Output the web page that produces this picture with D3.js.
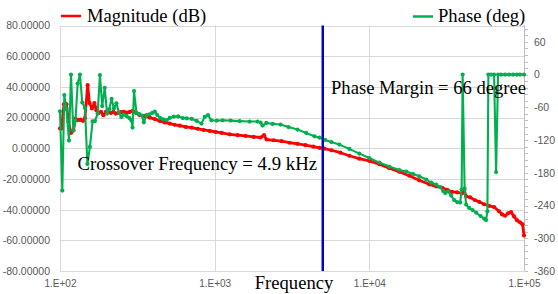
<!DOCTYPE html>
<html>
<head>
<meta charset="utf-8">
<script src="https://cdn.jsdelivr.net/npm/d3@7"></script>
<style>
  body { margin: 0; background: #fff; }
  .tick text { font-family: "Liberation Sans", Arial, sans-serif; fill: #595959; }
  .serif { font-family: "Liberation Serif", "Times New Roman", serif; fill: #000; }
</style>
</head>
<body>
<div id="chart"></div>
<script>
// magnitude (dB), red, left axis
var magFreq = [100, 102.3, 106.1, 110.1, 113.4, 117.8, 122.2, 125.9, 130.7, 135.6,
  140.8, 145.0, 150.9, 155.0, 160.9, 167.0, 172.0, 177.2, 183.9, 190.8,
  198.1, 205.6, 213.3, 221.4, 229.8, 238.5, 247.5, 258.8, 270.6, 282.8,
  295.8, 311.5, 328.1, 353.5, 380.7, 410.2, 441.8, 475.9, 512.6, 552.1,
  594.7, 650.1, 710.7, 776.9, 849.2, 928.4, 1015, 1110, 1250, 1407,
  1585, 1785, 1981, 2086, 2165, 2403, 2706, 3047, 3431, 3865,
  4352, 4759, 5126, 5687, 6501, 7430, 8620, 10000, 11600, 13460,
  15610, 18120, 21020, 24390, 27060, 29580, 31860, 34310, 36960, 39810,
  41020, 42250, 44840, 48300, 51260, 55210, 59470, 64050, 68990, 72130,
  75420, 78860, 82450, 86200, 90130, 94230, 97800, 100000];
var magDb = [12.9, 12.9, 28.7, 28.7, 17.2, 10.0, 11.7, 19.4, 18.3, 18.6,
  17.9, 19.6, 41.1, 29.5, 25.9, 29.5, 24.8, 22.8, 23.7, 21.5,
  23.7, 23.7, 23.0, 23.7, 22.6, 23.0, 23.5, 23.7, 23.2, 23.7,
  24.3, 23.0, 21.5, 20.9, 20.0, 19.0, 17.8, 16.8, 16.1, 15.3,
  14.7, 13.9, 13.5, 12.7, 11.9, 11.3, 10.6, 10.0, 9.1, 8.5,
  8.0, 7.4, 7.0, 8.5, 5.7, 5.2, 4.6, 3.6, 2.9, 2.0,
  1.0, 0.3, -0.2, -1.3, -2.9, -4.9, -6.8, -8.2, -10.4, -13.0,
  -15.3, -17.9, -20.9, -23.5, -24.8, -25.8, -27.1, -28.4, -28.7, -29.4,
  -27.4, -31.3, -32.0, -33.9, -34.9, -36.5, -37.5, -38.3, -41.1, -43.1,
  -44.0, -42.4, -41.6, -44.4, -47.0, -48.3, -49.6, -56.8];

// phase (deg), green, right axis
var phaseFreq = [100, 103.5, 106.6, 110.1, 114.3, 117.8, 121.9, 125.9, 130.1, 134.6,
  139.3, 145.0, 150.4, 156.1, 162.5, 168.2, 175.1, 181.2, 187.5, 194.6,
  201.6, 208.0, 215.5, 223.0, 231.5, 240.3, 249.4, 258.8, 269.4, 280.8,
  289.3, 294.5, 301.1, 312.5, 325.8, 338.1, 348.3, 362.6, 378.0, 395.3,
  410.2, 425.7, 445.1, 465.3, 490.1, 512.5, 543.8, 581.4, 621.6, 659.7,
  710.7, 765.6, 820.9, 862.1, 905.4, 952.3, 1030, 1126, 1268, 1449,
  1682, 1894, 1981, 2040, 2156, 2367, 2666, 3002, 3431, 3905,
  4418, 4759, 5179, 5686, 6404, 7430, 8620, 10000, 11600, 13460,
  15610, 17330, 19230, 21020, 23320, 25120, 27060, 28720, 30030, 30930,
  32340, 33810, 35350, 36960, 38650, 39520, 40110, 41320, 42250, 44180,
  46530, 49020, 52410, 55210, 56860, 57980, 58850, 61250, 64050, 65990,
  67990, 71070, 75420, 80030, 84940, 90130, 94230, 100000];
var phaseDeg = [-67.3, -212.6, -37.6, -63.2, -121.0, 0, -102.6, -84.3, -16.5, 0,
  -51.3, -61.0, -163.7, -132.5, -85.6, -85.2, -71.5, -0.9, -57.7, -24.2,
  -71.5, -63.6, -44.4, -62.3, -52.6, -69.6, -77.5, -73.3, -76.1, -79.7,
  -83.8, -97.1, -30.2, -70.6, -72.4, -75.1, -87.4, -74.2, -72.9, -70.2,
  -67.8, -74.2, -79.7, -81.9, -83.4, -79.4, -77.0, -76.6, -79.7, -80.1,
  -81.0, -84.9, -89.8, -77.5, -74.2, -83.8, -84.3, -83.8, -84.3, -85.2,
  -86.1, -86.1, -88.0, -93.5, -88.5, -90.4, -91.6, -96.2, -100.8, -106.9,
  -113.1, -115.5, -119.7, -123.7, -128.3, -136.2, -144.8, -153.0, -161.3, -168.6,
  -175.0, -177.8, -182.4, -186.4, -192.4, -197.9, -201.6, -206.2, -213.5, -217.2,
  -214.4, -221.8, -230.0, -233.7, -234.6, -210.8, 0, -208.9, -238.3, -244.3,
  -248.4, -252.9, -259.3, -263.9, -266.7, -250.5, 0, 0, 0, -178.7,
  0, 0, 0, 0, 0, 0, 0, 0];

var crossoverFreq = 5000;

var xTicks = [100, 1000, 10000, 100000];
var xTickLabels = ["1.E+02", "1.E+03", "1.E+04", "1.E+05"];
var leftTicks = [-80, -60, -40, -20, 0, 20, 40, 60, 80];
var rightTicks = [-360, -300, -240, -180, -120, -60, 0, 60];

var width = 558, height = 294;
var plotLeft = 60, plotRight = 524, plotTop = 25.5, plotBottom = 271;

var red = "#ff0000", green = "#00b050", blue = "#0000cc";

var svg = d3.select("#chart").append("svg")
  .attr("width", width)
  .attr("height", height);

var x = d3.scaleLog().domain([100, 100000]).range([plotLeft, plotRight]);
var yL = d3.scaleLinear().domain([-80, 80]).range([plotBottom, plotTop]);
var yR = d3.scaleLinear().domain([-360, 90]).range([plotBottom, plotTop]);

/* grid */
svg.append("g")
  .selectAll("line")
  .data(leftTicks).enter()
  .append("line")
  .attr("x1", plotLeft).attr("x2", plotRight)
  .attr("y1", d => Math.round(yL(d)) + 0.5).attr("y2", d => Math.round(yL(d)) + 0.5)
  .attr("stroke", "#d9d9d9");

svg.append("g")
  .selectAll("line")
  .data(xTicks).enter()
  .append("line")
  .attr("x1", d => Math.round(x(d)) + 0.5).attr("x2", d => Math.round(x(d)) + 0.5)
  .attr("y1", plotTop).attr("y2", plotBottom)
  .attr("stroke", "#d9d9d9");

/* axes */
var leftAxis = d3.axisLeft(yL).tickValues(leftTicks).tickSize(0).tickPadding(10)
  .tickFormat(d => d.toFixed(5));
svg.append("g")
  .attr("transform", `translate(${plotLeft},0)`)
  .call(leftAxis)
  .call(g => g.select(".domain").remove())
  .selectAll("text").style("font-size", "10.5px");

var bottomAxis = d3.axisBottom(x).tickValues(xTicks).tickSize(0).tickPadding(9)
  .tickFormat((d, i) => xTickLabels[i]);
svg.append("g")
  .attr("transform", `translate(0,${plotBottom})`)
  .call(bottomAxis)
  .call(g => g.select(".domain").remove())
  .selectAll("text").style("font-size", "10px");

var rightAxis = d3.axisRight(yR).tickValues(rightTicks).tickSize(0).tickPadding(10)
  .tickFormat(d => String(d));
svg.append("g")
  .attr("transform", `translate(${plotRight},0)`)
  .call(rightAxis)
  .call(g => g.select(".domain").attr("stroke", "#bfbfbf").attr("d", `M0.5,${plotTop}V${plotBottom}`))
  .selectAll("text").style("font-size", "10.5px");

// minor ticks on the right axis
svg.append("g")
  .selectAll("line")
  .data(d3.range(-360, 91, 12)).enter()
  .append("line")
  .attr("x1", plotRight + 0.5).attr("x2", plotRight + 4)
  .attr("y1", d => Math.round(yR(d)) + 0.5).attr("y2", d => Math.round(yR(d)) + 0.5)
  .attr("stroke", "#bfbfbf");

/* series */
var mag = magFreq.map((f, i) => ({f: f, v: magDb[i]}));
var phase = phaseFreq.map((f, i) => ({f: f, v: phaseDeg[i]}));

var magLine = d3.line().x(d => x(d.f)).y(d => yL(d.v));
var phaseLine = d3.line().x(d => x(d.f)).y(d => yR(d.v));

svg.append("path")
  .attr("d", magLine(mag))
  .attr("fill", "none")
  .attr("stroke", red)
  .attr("stroke-width", 2.8)
  .attr("stroke-linejoin", "round");
svg.append("g")
  .selectAll("circle")
  .data(mag).enter()
  .append("circle")
  .attr("cx", d => x(d.f)).attr("cy", d => yL(d.v))
  .attr("r", 2.1)
  .attr("fill", red);

svg.append("path")
  .attr("d", phaseLine(phase))
  .attr("fill", "none")
  .attr("stroke", green)
  .attr("stroke-width", 2.1)
  .attr("stroke-linejoin", "round");
svg.append("g")
  .selectAll("circle")
  .data(phase).enter()
  .append("circle")
  .attr("cx", d => x(d.f)).attr("cy", d => yR(d.v))
  .attr("r", 2.1)
  .attr("fill", green);

/* crossover marker */
svg.append("line")
  .attr("x1", x(crossoverFreq)).attr("x2", x(crossoverFreq))
  .attr("y1", plotTop).attr("y2", plotBottom)
  .attr("stroke", blue)
  .attr("stroke-width", 2.5);

/* legend */
svg.append("line")
  .attr("x1", 61).attr("x2", 81).attr("y1", 16).attr("y2", 16)
  .attr("stroke", red).attr("stroke-width", 2.5);
svg.append("text").attr("class", "serif")
  .attr("x", 87).attr("y", 21.5)
  .style("font-size", "18.6px")
  .text("Magnitude (dB)");

svg.append("line")
  .attr("x1", 413).attr("x2", 433).attr("y1", 16.5).attr("y2", 16.5)
  .attr("stroke", green).attr("stroke-width", 2.5);
svg.append("text").attr("class", "serif")
  .attr("x", 438).attr("y", 21.5)
  .style("font-size", "18.6px")
  .text("Phase (deg)");

/* annotations */
svg.append("text").attr("class", "serif")
  .attr("x", 331).attr("y", 93.5)
  .style("font-size", "18.6px")
  .text("Phase Margin = 66 degree");

svg.append("text").attr("class", "serif")
  .attr("x", 77.5).attr("y", 169.5)
  .style("font-size", "18.8px")
  .text("Crossover Frequency = 4.9 kHz");

svg.append("text").attr("class", "serif")
  .attr("x", 294).attr("y", 289)
  .attr("text-anchor", "middle")
  .style("font-size", "18.6px")
  .text("Frequency");
</script>
</body>
</html>
